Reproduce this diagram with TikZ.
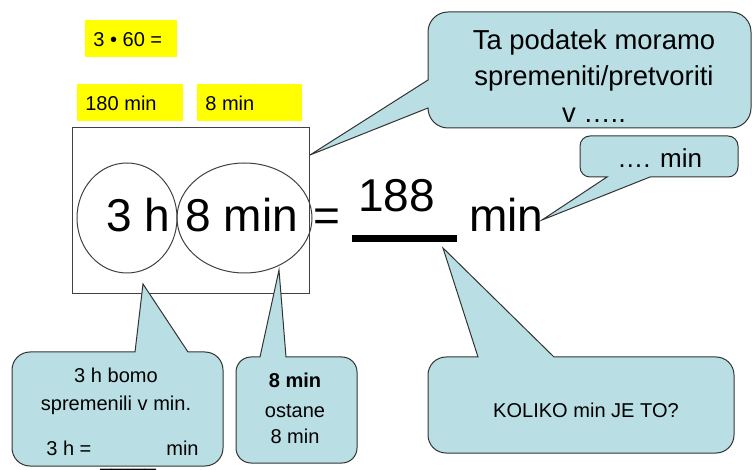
\documentclass[tikz,border=0pt]{standalone}
\usepackage{fontspec}
\setmainfont{Liberation Sans}
\definecolor{callfill}{RGB}{185,223,228}
\definecolor{marker}{RGB}{255,255,0}
\newcommand{\txtbig}{\fontsize{26.2}{31}\selectfont}
\newcommand{\txtnote}{\fontsize{15.6}{19}\selectfont}
\newcommand{\txtdots}{\fontsize{14.8}{18}\selectfont}
\newcommand{\txtsmall}{\fontsize{11.4}{14}\selectfont}
\begin{document}
\begin{tikzpicture}[every node/.style={inner sep=0pt},
    callout/.style={fill=callfill, draw=black!80, line width=0.02cm},
    marked/.style={fill=marker},
    thin frame/.style={draw=black!75, line width=0.02cm}]
            \useasboundingbox (0,0) rectangle (15.040000,9.380000);
            {\txtsmall

            % Marking the yellow hints
            \fill [marked] (1.700000,8.240000) rectangle (3.540000,8.980000);%
            \draw (1.860000,8.440000) node (calc) [anchor=base west] {3 • 60 =};%
            \fill [marked] (1.540000,6.960000) rectangle (3.660000,7.700000);%
            \draw (1.700000,7.160000) node (hint180) [anchor=base west] {180 min};%
            \fill [marked] (3.940000,6.960000) rectangle (6.040000,7.700000);%
            \draw (4.100000,7.160000) node (hint8) [anchor=base west] {8 min};%

            % Drawing frame and the two ovals
            \draw [thin frame] (1.440000,3.500000) rectangle (6.180000,6.820000);%
            \draw [thin frame] (2.540000,5.020000) ellipse (1.000000 and 1.100000);%
            \draw [thin frame] (4.890000,5.020000) ellipse (1.350000 and 1.100000);%

            % Marking the equation
            \draw (2.120000,4.740000) node (hours) [anchor=base west] {\txtbig 3 h};%
            \draw (3.700000,4.740000) node (mins) [anchor=base west] {\txtbig 8 min};%
            \draw (6.260000,4.740000) node (eq) [anchor=base west] {\txtbig =};%
            \draw (7.160000,5.140000) node (result) [anchor=base west] {\txtbig 188};%
            \fill (7.040000,4.540000) rectangle (9.140000,4.680000);%
            \draw (9.380000,4.740000) node (unit) [anchor=base west] {\txtbig min};%

            % Drawing callout Ta podatek
            \draw [callout] (6.200000,6.280000) -- (8.560000,7.220000) arc (180:270:0.4) -- (14.620000,6.820000) arc (270:360:0.4) -- (15.020000,8.740000) arc (0:90:0.4) -- (8.960000,9.140000) arc (90:180:0.4) -- (8.560000,7.780000) -- cycle;%
            \draw (11.880000,8.380000) node (note1) [anchor=base] {\txtnote Ta podatek moramo};%
            \draw (11.880000,7.660000) node (note2) [anchor=base] {\txtnote spremeniti/pretvoriti};%
            \draw (11.880000,6.920000) node (note3) [anchor=base] {\txtnote v …..};%

            % Drawing callout .... min
            \draw [callout] (10.840000,4.980000) -- (13.000000,5.840000) -- (14.560000,5.840000) arc (270:360:0.2) -- (14.760000,6.460000) arc (0:90:0.2) -- (11.800000,6.660000) arc (90:180:0.2) -- (11.600000,6.040000) arc (180:270:0.2) -- (12.140000,5.840000) -- cycle;%
            \draw (12.340000,6.020000) node (dots) [anchor=base west] {\txtdots …. min};%

            % Drawing callout 3 h bomo
            \draw [callout] (2.860000,3.700000) -- (3.760000,2.340000) -- (4.100000,2.340000) arc (90:0:0.36) -- (4.460000,0.420000) arc (0:-90:0.36) -- (0.600000,0.060000) arc (270:180:0.36) -- (0.240000,1.980000) arc (180:90:0.36) -- (2.700000,2.340000) -- cycle;%
            \draw (2.320000,1.720000) node (conv1) [anchor=base] {3 h bomo};%
            \draw (2.320000,1.180000) node (conv2) [anchor=base] {spremenili v min.};%
            \draw (0.920000,0.280000) node (conv3) [anchor=base west] {3 h =};%
            \draw (2.000000,0.060000) node (blank) [anchor=base west] {\_\_\_\_\_};%
            \draw (3.320000,0.280000) node (conv4) [anchor=base west] {min};%

            % Drawing callout 8 min ostane
            \draw [callout] (5.580000,3.980000) -- (5.720000,2.240000) -- (6.840000,2.240000) arc (90:0:0.3) -- (7.140000,0.420000) arc (0:-90:0.3) -- (5.020000,0.120000) arc (270:180:0.3) -- (4.720000,1.940000) arc (180:90:0.3) -- (5.200000,2.240000) -- cycle;%
            \draw (5.900000,1.620000) node (rest1) [anchor=base] {\bfseries 8 min};%
            \draw (5.900000,1.040000) node (rest2) [anchor=base] {ostane};%
            \draw (5.900000,0.520000) node (rest3) [anchor=base] {8 min};%

            % Drawing callout KOLIKO
            \draw [callout] (8.860000,4.420000) -- (11.080000,2.240000) -- (14.320000,2.240000) arc (90:0:0.36) -- (14.680000,0.680000) arc (0:-90:0.36) -- (8.920000,0.320000) arc (270:180:0.36) -- (8.560000,1.880000) arc (180:90:0.36) -- (9.560000,2.240000) -- cycle;%
            \draw (11.720000,1.040000) node (ask) [anchor=base] {KOLIKO min JE TO?};%
            }
        \end{tikzpicture}
\end{document}
